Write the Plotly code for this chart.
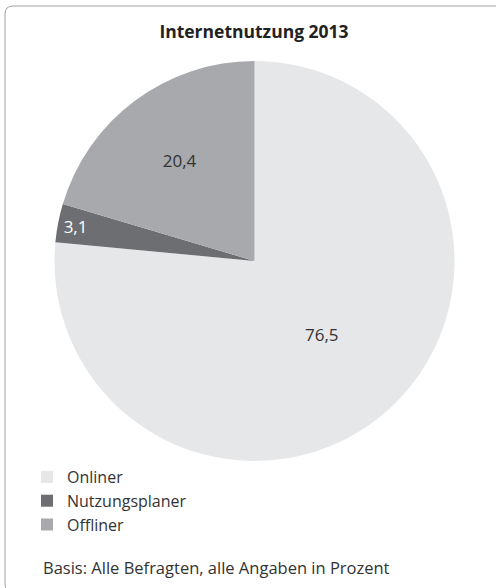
import plotly.graph_objects as go

categories = ["Onliner", "Nutzungsplaner", "Offliner"]
values = [76.5, 3.1, 20.4]
colors = ["#e6e7e8", "#6d6e71", "#a7a9ac"]
label_colors = ["#333333", "#ffffff", "#333333"]
title_text = "<b>Internetnutzung 2013</b>"
footnote = "Basis: Alle Befragten, alle Angaben in Prozent"

W, H = 496, 588
FONT = "Open Sans"

def px(x):
    return x / W

def py(y):
    return 1 - y / H

fig = go.Figure(go.Pie(
    labels=categories,
    values=values,
    sort=False,
    direction="clockwise",
    rotation=0,
    marker=dict(colors=colors, line=dict(width=0)),
    texttemplate="%{value:.1f}",
    textposition="inside",
    insidetextorientation="horizontal",
    textfont=dict(color=label_colors, size=17, family=FONT),
    hoverinfo="label+value",
    domain=dict(x=[px(54.5), px(454.5)], y=[py(461), py(61)]),
))

# rounded frame (top + left visible, rest clipped)
x0, y0, x1, y1, r = px(5), py(6), px(520), py(592), 8
path = (f"M {x0},{py(592 - r)} L {x0},{py(6 + r)} "
        f"Q {x0},{y0} {px(5 + r)},{y0} L {x1},{y0} L {x1},{y1} "
        f"L {px(5 + r)},{y1} Q {x0},{y1} {x0},{py(592 - r)} Z")

fig.update_layout(
    width=W, height=H,
    margin=dict(l=0, r=0, t=0, b=0),
    paper_bgcolor="white",
    plot_bgcolor="white",
    separators=",.",
    font=dict(family=FONT, size=16, color="#333333"),
    uniformtext=dict(minsize=17, mode="show"),
    title=dict(text=title_text, x=px(254), y=py(32), xanchor="center", yanchor="middle",
               font=dict(family=FONT, size=17.5, color="#222222")),
    showlegend=True,
    legend=dict(x=px(27), y=py(460), xanchor="left", yanchor="top",
                font=dict(family=FONT, size=16, color="#333333"),
                bgcolor="rgba(0,0,0,0)", traceorder="normal"),
    shapes=[dict(type="path", path=path, xref="paper", yref="paper",
                 line=dict(color="#a0a0a0", width=1), fillcolor="rgba(0,0,0,0)")],
    annotations=[dict(text=footnote, x=px(41), y=py(567), xref="paper", yref="paper",
                      xanchor="left", yanchor="middle", showarrow=False,
                      font=dict(family=FONT, size=16.5, color="#333333"))],
)

fig.write_html("out.html", config={"displayModeBar": False},
               post_script="document.body.style.margin='0';document.body.style.overflow='hidden';")
